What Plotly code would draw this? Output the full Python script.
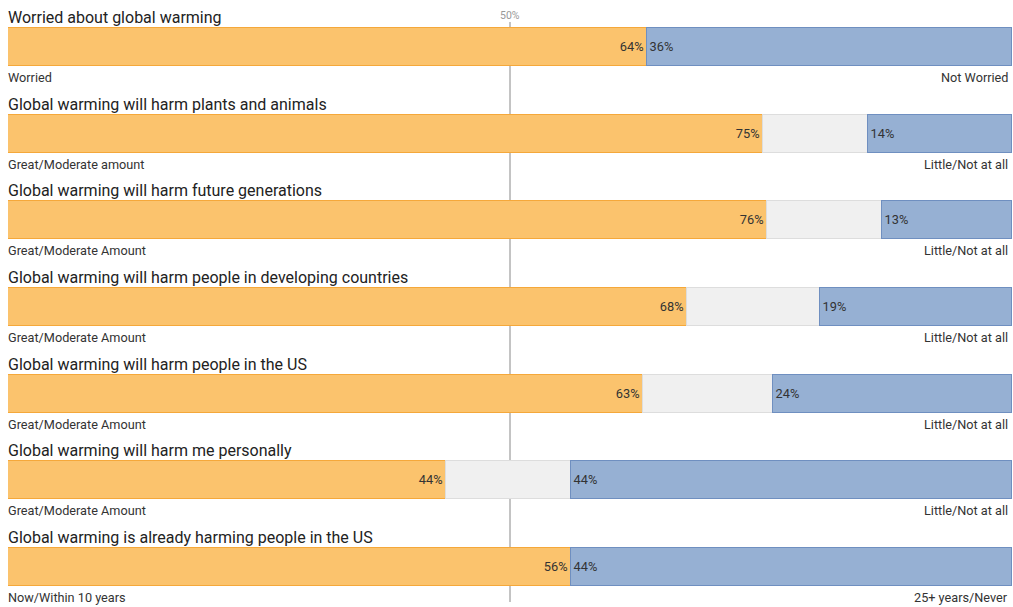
import plotly.graph_objects as go

titles = [
    "Worried about global warming",
    "Global warming will harm plants and animals",
    "Global warming will harm future generations",
    "Global warming will harm people in developing countries",
    "Global warming will harm people in the US",
    "Global warming will harm me personally",
    "Global warming is already harming people in the US",
]
left_labels = ["Worried", "Great/Moderate amount", "Great/Moderate Amount",
               "Great/Moderate Amount", "Great/Moderate Amount",
               "Great/Moderate Amount", "Now/Within 10 years"]
right_labels = ["Not Worried", "Little/Not at all", "Little/Not at all",
                "Little/Not at all", "Little/Not at all", "Little/Not at all",
                "25+ years/Never"]
agree = [63.6, 75.2, 75.6, 67.6, 63.2, 43.6, 56.1]
neutral = [0.0, 10.5, 11.5, 13.3, 13.0, 12.5, 0.0]
disagree = [36.4, 14.3, 12.9, 19.1, 23.8, 43.9, 43.9]

ys = list(range(len(titles)))
W, H = 1013, 607
row_px = 86.67
first_center = 47
top_u = -first_center / row_px
bot_u = (len(titles) - 1) + (H - (first_center + row_px * (len(titles) - 1))) / row_px

fig = go.Figure()
fig.add_trace(go.Bar(
    y=ys, x=agree, orientation="h", width=0.44,
    marker=dict(color="#fbc36d", line=dict(color="#f5a83a", width=1)),
    text=[f"{round(v)}%" for v in agree], textposition="inside", insidetextanchor="end",
    textfont=dict(color="#333333", size=12.8, family="Roboto"), hoverinfo="skip",
))
fig.add_trace(go.Bar(
    y=ys, x=neutral, orientation="h", width=0.44,
    marker=dict(color="#f0f0f0", line=dict(color="#dddddd", width=1)),
    hoverinfo="skip",
))
fig.add_trace(go.Bar(
    y=ys, x=disagree, orientation="h", width=0.44,
    marker=dict(color="#96b0d3", line=dict(color="#6f8fc0", width=1)),
    text=[f"{round(v)}%" for v in disagree], textposition="inside", insidetextanchor="start",
    textfont=dict(color="#333333", size=12.8, family="Roboto"), hoverinfo="skip",
))

ann = []
for i, t in enumerate(titles):
    ann.append(dict(x=0, y=i - 0.34, xref="x", yref="y", text=t, showarrow=False,
                    xanchor="left", yanchor="middle", xshift=-2,
                    font=dict(size=16, color="#222222", family="Roboto")))
    ann.append(dict(x=0, y=i + 0.35, xref="x", yref="y", text=left_labels[i], showarrow=False,
                    xanchor="left", yanchor="middle", xshift=-2,
                    font=dict(size=12.7, color="#333333", family="Roboto")))
    ann.append(dict(x=99.6, y=i + 0.35, xref="x", yref="y", text=right_labels[i], showarrow=False,
                    xanchor="right", yanchor="middle", xshift=2,
                    font=dict(size=12.7, color="#333333", family="Roboto")))
ann.append(dict(x=50, y=top_u + 15 / row_px, xref="x", yref="y", text="50%", showarrow=False,
                xanchor="center", yanchor="middle",
                font=dict(size=10.5, color="#999999", family="Roboto")))

fig.update_layout(
    barmode="stack", width=W, height=H,
    margin=dict(l=8, r=1, t=0, b=0),
    paper_bgcolor="white", plot_bgcolor="white",
    showlegend=False, bargap=0,
    xaxis=dict(range=[0, 100], visible=False, fixedrange=True),
    yaxis=dict(range=[bot_u, top_u], visible=False, fixedrange=True),
    annotations=ann,
    uniformtext=dict(mode="show", minsize=12),
    shapes=[dict(type="line", xref="x", yref="y", x0=50, x1=50,
                 y0=top_u + 22 / row_px, y1=bot_u - 5 / row_px,
                 line=dict(color="#888888", width=1), layer="below")],
)
fig.write_html("out.html", config={"displayModeBar": False},
               post_script="document.body.style.margin='0';document.body.style.overflow='hidden';")
